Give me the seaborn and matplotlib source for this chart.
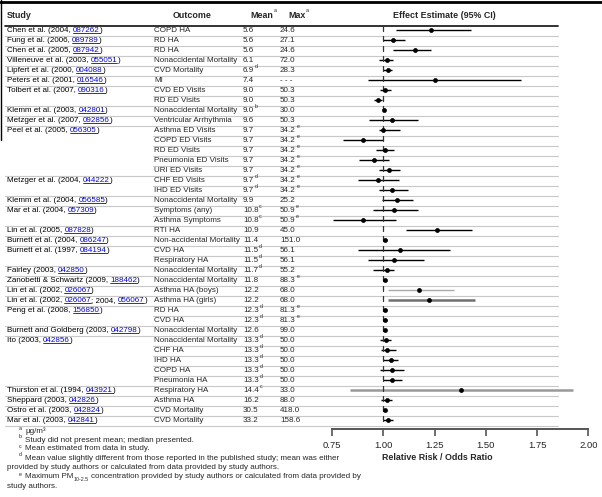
import re
import matplotlib
matplotlib.use("Agg")
import matplotlib.pyplot as plt
import seaborn as sns
import pandas as pd

# ---- table data -------------------------------------------------------
studies = [
    "Chen et al. (2004, 087262)", "Fung et al. (2006, 089789)", "Chen et al. (2005, 087942)",
    "Villeneuve et al. (2003, 055051)", "Lipfert et al. (2000, 004088)", "Peters et al. (2001, 016546)",
    "Tolbert et al. (2007, 090316)", "", "Klemm et al. (2003, 042801)", "Metzger et al. (2007, 092856)",
    "Peel et al. (2005, 056305)", "", "", "", "",
    "Metzger et al. (2004, 044222)", "", "Klemm et al. (2004, 056585)", "Mar et al. (2004, 057309)", "",
    "Lin et al. (2005, 087828)", "Burnett et al. (2004, 086247)", "Burnett et al. (1997, 084194)", "",
    "Fairley (2003, 042850)", "Zanobetti & Schwartz (2009, 188462)", "Lin et al. (2002, 026067)",
    "Lin et al. (2002, 026067; 2004, 056067)", "Peng et al. (2008, 156850)", "",
    "Burnett and Goldberg (2003, 042798)", "Ito (2003, 042856)", "", "", "", "",
    "Thurston et al. (1994, 043921)", "Sheppard (2003, 042826)", "Ostro et al. (2003, 042824)",
    "Mar et al. (2003, 042841)",
]
outcomes = [
    "COPD HA", "RD HA", "RD HA", "Nonaccidental Mortality", "CVD Mortality", "MI",
    "CVD ED Visits", "RD ED Visits", "Nonaccidental Mortality", "Ventricular Arrhythmia",
    "Asthma ED Visits", "COPD ED Visits", "RD ED Visits", "Pneumonia ED Visits", "URI ED Visits",
    "CHF ED Visits", "IHD ED Visits", "Nonaccidental Mortality", "Symptoms (any)", "Asthma Symptoms",
    "RTI HA", "Non-accidental Mortality", "CVD HA", "Respiratory HA", "Nonaccidental Mortality",
    "Nonaccidental Mortality", "Asthma HA (boys)", "Asthma HA (girls)", "RD HA", "CVD HA",
    "Nonaccidental Mortality", "Nonaccidental Mortality", "CHF HA", "IHD HA", "COPD HA",
    "Pneumonia HA", "Respiratory HA", "Asthma HA", "CVD Mortality", "CVD Mortality",
]
mean_vals = [5.6, 5.6, 5.6, 6.1, 6.9, 7.4, 9.0, 9.0, 9.0, 9.6,
             9.7, 9.7, 9.7, 9.7, 9.7, 9.7, 9.7, 9.9, 10.8, 10.8,
             10.9, 11.4, 11.5, 11.5, 11.7, 11.8, 12.2, 12.2, 12.3, 12.3,
             12.6, 13.3, 13.3, 13.3, 13.3, 13.3, 14.4, 16.2, 30.5, 33.2]
mean_notes = ["", "", "", "", "d", "", "", "", "b", "",
              "", "", "", "", "", "d", "d", "", "c", "c",
              "", "", "d", "d", "d", "", "", "", "d", "d",
              "", "d", "d", "d", "d", "d", "c", "", "", ""]
max_vals = [24.6, 27.1, 24.6, 72.0, 28.3, None, 50.3, 50.3, 30.0, 50.3,
            34.2, 34.2, 34.2, 34.2, 34.2, 34.2, 34.2, 25.2, 50.9, 50.9,
            45.0, 151.0, 56.1, 56.1, 55.2, 88.3, 68.0, 68.0, 81.3, 81.3,
            99.0, 50.0, 50.0, 50.0, 50.0, 50.0, 33.0, 88.0, 418.0, 158.6]
max_notes = ["", "", "", "", "", "", "", "", "", "",
             "e", "e", "e", "e", "e", "e", "e", "", "e", "e",
             "", "", "", "", "", "e", "", "", "e", "e",
             "", "", "", "", "", "", "", "", "", ""]

# effect estimates (relative risk / odds ratio) with 95% CI
rr = [1.235, 1.049, 1.154, 1.016, 1.023, 1.251, 1.008, 0.972, 1.003, 1.042,
      1.000, 0.901, 1.010, 0.953, 1.029, 0.972, 1.045, 1.066, 1.052, 0.901,
      1.262, 1.010, 1.081, 1.052, 1.016, 1.008, 1.173, 1.223, 1.010, 1.010,
      1.008, 1.011, 1.019, 1.036, 1.045, 1.045, 1.380, 1.019, 1.008, 1.024]
rr_lo = [1.061, 0.997, 1.049, 0.977, 1.000, 0.926, 0.984, 0.955, 0.997, 0.932,
         0.977, 0.806, 0.964, 0.883, 0.977, 0.875, 0.977, 0.992, 0.951, 0.757,
         1.110, 1.003, 0.877, 0.924, 0.951, 1.000, 1.023, 1.023, 1.000, 1.000,
         1.000, 0.984, 0.987, 1.000, 0.984, 1.000, 0.838, 0.987, 1.000, 1.000]
rr_hi = [1.426, 1.104, 1.233, 1.049, 1.045, 1.672, 1.036, 0.992, 1.010, 1.167,
         1.084, 1.000, 1.053, 1.026, 1.084, 1.078, 1.121, 1.147, 1.167, 1.061,
         1.434, 1.019, 1.327, 1.201, 1.052, 1.013, 1.346, 1.448, 1.016, 1.016,
         1.013, 1.036, 1.061, 1.073, 1.100, 1.089, 1.926, 1.045, 1.016, 1.049]
ci_style = ["main"] * 40
ci_style[26] = "light"
ci_style[27] = "dark"
ci_style[36] = "light_thick"

x_ticks = [0.75, 1.00, 1.25, 1.50, 1.75, 2.00]

footnotes = [
    ("a", "µg/m³"),
    ("b", "Study did not present mean; median presented."),
    ("c", "Mean estimated from data in study."),
    ("d", "Mean value slightly different from those reported in the published study; mean was either"),
    ("", "provided by study authors or calculated from data provided by study authors."),
    ("e", "Maximum PM"),
    ("", "study authors."),
]

# ---- styling ----------------------------------------------------------
sns.set_style("white")
plt.rcParams["font.family"] = ["Liberation Sans", "DejaVu Sans"]

W, H = 602, 497
BODY = 5.75
HEAD = 6.4
SUP = 3.8
LINK = "#0000ee"
STYLE = {"main": ("black", 1.0), "light": ("#aaaaaa", 1.0),
         "dark": ("#707070", 1.8), "light_thick": ("#999999", 1.8)}


def row_y(i):
    return 30.5 + 10 * i


fig = plt.figure(figsize=(W / 100, H / 100), dpi=100)
tab = fig.add_axes([0, 0, 1, 1])
tab.set_xlim(0, W)
tab.set_ylim(H, 0)
tab.axis("off")

# frame lines
tab.plot([0, W], [1.5, 1.5], color="black", lw=2)
tab.plot([0.6, 0.6], [0, 140], color="black", lw=1)
tab.plot([5, 558], [25.5, 25.5], color="#222222", lw=1.3)
n = len(outcomes)
for i in range(n):
    new_study = i == n - 1 or studies[i + 1] != ""
    x0 = 5 if new_study else 153
    tab.plot([x0, 558], [row_y(i) + 5] * 2, color="#c8c8c8", lw=0.8)


def sup(note, t, dy=1.8):
    tab.annotate(note, xy=(1, 1), xycoords=t, xytext=(0.4, dy), textcoords="offset points",
                 fontsize=SUP, va="top", ha="left")


# headers
tab.text(7, 15, "Study", fontsize=HEAD, fontweight="bold", va="center")
tab.text(173, 15, "Outcome", fontsize=HEAD, fontweight="bold", va="center")
for hx, lab in [(250, "Mean"), (288, "Max")]:
    t = tab.text(hx, 15, lab, fontsize=HEAD, fontweight="bold", va="center")
    sup("a", t, 1.6)
tab.text(393, 15, "Effect Estimate (95% CI)", fontsize=HEAD, fontweight="bold", va="center")

links = []


def chain_text(parts, x, y, size):
    prev = None
    gap = 0.0
    for txt, is_link in parts:
        color = LINK if is_link else "black"
        stripped = txt.rstrip(" ")
        trail = len(txt) - len(stripped)
        if prev is None:
            t = tab.text(x, y, stripped, fontsize=size, color=color, va="center", ha="left")
        else:
            t = tab.annotate(stripped, xy=(1, 0), xycoords=prev, xytext=(gap, 0),
                             textcoords="offset points", fontsize=size, color=color,
                             va="bottom", ha="left")
        gap = 0.278 * size * trail
        if is_link:
            links.append(t)
        prev = t
    return prev


for i in range(n):
    y = row_y(i)
    if studies[i]:
        pieces = re.split(r"(\d{6})", studies[i])
        parts = [(p, bool(re.fullmatch(r"\d{6}", p))) for p in pieces if p]
        chain_text(parts, 7, y, BODY)
    tab.text(154, y, outcomes[i], fontsize=BODY, va="center")
    t = tab.text(243, y, f"{mean_vals[i]:.1f}", fontsize=BODY, va="center")
    if mean_notes[i]:
        sup(mean_notes[i], t)
    mx = "- - -" if max_vals[i] is None else f"{max_vals[i]:.1f}"
    t = tab.text(280, y, mx, fontsize=BODY, va="center")
    if max_notes[i]:
        sup(max_notes[i], t)

# footnotes
foot_y = [431, 440, 449, 458, 467.5, 477, 486]
for (mark, txt), fy in zip(footnotes, foot_y):
    if mark:
        tab.text(19, fy - 3, mark, fontsize=SUP, va="center")
        t = tab.text(25, fy, txt, fontsize=BODY, va="center")
    else:
        t = tab.text(7, fy, txt, fontsize=BODY, va="center")
    if mark == "e":
        sub = tab.annotate("10-2.5", xy=(1, 0), xycoords=t, xytext=(0.3, -1.2),
                           textcoords="offset points", fontsize=SUP, va="bottom", ha="left")
        tab.annotate("concentration provided by study authors or calculated from data provided by",
                     xy=(1, 0), xycoords=(sub, t), xytext=(1.6, 0), textcoords="offset points",
                     fontsize=BODY, va="bottom", ha="left")

# ---- forest plot -------------------------------------------------------
ax_l, ax_r, ax_b, ax_t = 332.0, 588.3, 429.0, 25.0
ax = fig.add_axes([ax_l / W, 1 - ax_b / H, (ax_r - ax_l) / W, (ax_b - ax_t) / H])
ax.patch.set_alpha(0)

df = pd.DataFrame({"row": range(n), "rr": rr, "lo": rr_lo, "hi": rr_hi, "style": ci_style})
for _, r in df.iterrows():
    c, lw = STYLE[r["style"]]
    ax.plot([r["lo"], r["hi"]], [r["row"], r["row"]], color=c, lw=lw,
            solid_capstyle="butt", clip_on=False, zorder=2)
    ax.plot([1, 1], [r["row"] - 0.4, r["row"] + 0.1], color="#333333", lw=0.9,
            clip_on=False, zorder=2)
sns.scatterplot(data=df, x="rr", y="row", color="black", s=12, linewidth=0,
                legend=False, ax=ax, clip_on=False, zorder=3)

ax.set_xlim(0.75, 2.0)
ax.set_ylim((ax_b - 30.5) / 10, (ax_t - 30.5) / 10)
ax.set_xticks(x_ticks)
ax.set_xticklabels([f"{v:.2f}" for v in x_ticks])
ax.set_yticks([])
ax.set_xlabel("")
ax.set_ylabel("")
for s in ["top", "left", "right"]:
    ax.spines[s].set_visible(False)
ax.spines["bottom"].set_color("#555555")
ax.spines["bottom"].set_linewidth(1.4)
ax.tick_params(axis="x", direction="out", length=5, width=1.2, color="#555555",
               labelsize=6.8, pad=3.5, bottom=True)
tab.text(382, 458, "Relative Risk / Odds Ratio", fontsize=HEAD, fontweight="bold",
         va="center", ha="left")

# underline the reference links
fig.canvas.draw()
inv = tab.transData.inverted()
for t in links:
    bb = t.get_window_extent()
    (x0, y0), (x1, _) = inv.transform([[bb.x0, bb.y0], [bb.x1, bb.y1]])
    tab.plot([x0, x1], [y0 - 0.7, y0 - 0.7], color=LINK, lw=0.6)

fig.savefig("out.png", dpi=100)
